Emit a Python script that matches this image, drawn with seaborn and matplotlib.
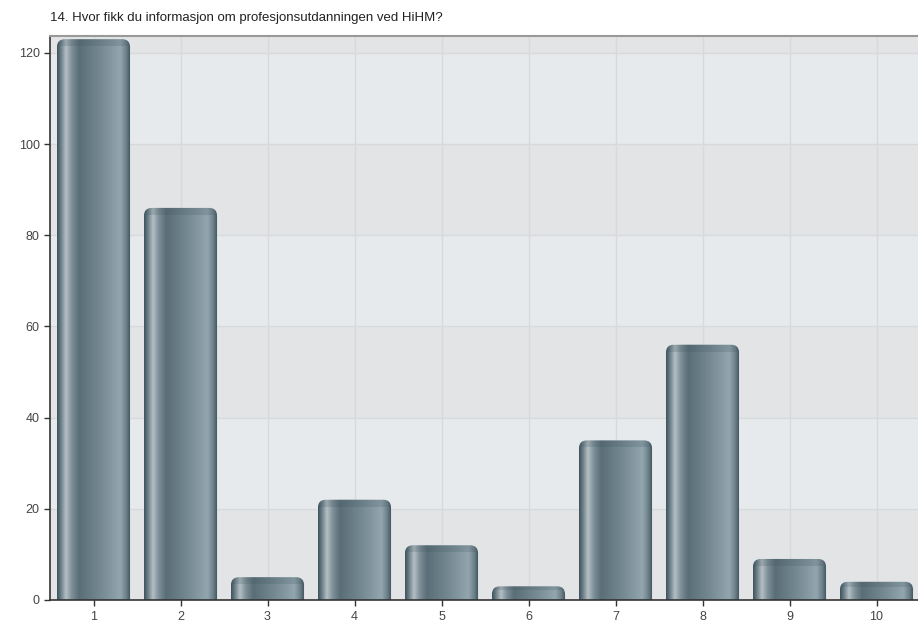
import matplotlib

matplotlib.use("Agg")
import matplotlib.pyplot as plt
import numpy as np
import pandas as pd
import seaborn as sns
from matplotlib.colors import LinearSegmentedColormap
from matplotlib.patches import FancyBboxPatch

# values
categories = ["1", "2", "3", "4", "5", "6", "7", "8", "9", "10"]
counts = [123, 86, 5, 22, 12, 3, 35, 56, 9, 4]
y_ticks = [0, 20, 40, 60, 80, 100, 120]
title = "14. Hvor fikk du informasjon om profesjonsutdanningen ved HiHM?"

df = pd.DataFrame({"category": categories, "count": counts})

sns.set_theme(style="white")
plt.rcParams["font.family"] = ["Liberation Sans", "DejaVu Sans"]

fig = plt.figure(figsize=(9.18, 6.24), dpi=100)
ax = fig.add_axes([50 / 918, 24 / 624, 870 / 918, 564 / 624])

sns.barplot(data=df, x="category", y="count", ax=ax, width=0.84, color="#6b808a")
bars = list(ax.patches)

ymax = 123.7
ax.set_xlim(-0.5, len(categories) - 0.5)
ax.set_ylim(0, ymax)

# alternating horizontal bands, darker from 0
bands = y_ticks + [ymax]
for i in range(len(bands) - 1):
    ax.axhspan(bands[i], bands[i + 1], color="#e3e4e6" if i % 2 == 0 else "#e7eaed", zorder=0, lw=0)
for y in y_ticks[1:]:
    ax.axhline(y, color="#d8d9db", lw=1.0, zorder=0.5)
for x in range(len(categories)):
    ax.axvline(x, color="#d8d9db", lw=1.0, zorder=0.5)

# cylinder-like gradient across each bar
grad = LinearSegmentedColormap.from_list(
    "bar",
    [
        (0.0, "#3f535d"),
        (0.04, "#60747e"),
        (0.12, "#b4bfc4"),
        (0.2, "#7d8f98"),
        (0.3, "#5a6e78"),
        (0.6, "#768a94"),
        (0.86, "#93a6af"),
        (0.94, "#6c808a"),
        (1.0, "#3a4e58"),
    ],
)
strip = np.linspace(0, 1, 256).reshape(1, -1)

# rounding radius ~8px in both directions
px_x = len(categories) / 870
px_y = ymax / 564
r = 8 * px_x
aspect = px_y / px_x

for patch in bars:
    x0, w, h = patch.get_x(), patch.get_width(), patch.get_height()
    patch.set_visible(False)
    clip = FancyBboxPatch(
        (x0 + r, -10 + r * aspect),
        w - 2 * r,
        h + 10 - 2 * r * aspect,
        boxstyle=f"round,pad={r},rounding_size={r}",
        mutation_aspect=aspect,
        transform=ax.transData,
        facecolor="none",
        edgecolor="none",
    )
    ax.add_patch(clip)
    im = ax.imshow(strip, cmap=grad, aspect="auto", extent=(x0, x0 + w, 0, h),
                   zorder=2, interpolation="bilinear")
    im.set_clip_path(clip)
    # slightly darker cap at the top edge
    cap_h = min(1.5, h * 0.3)
    ax.fill_between([x0, x0 + w], h - cap_h, h, color="#3f535d", alpha=0.2, zorder=3,
                    lw=0).set_clip_path(clip)

ax.set_yticks(y_ticks)
ax.set_xlabel("")
ax.set_ylabel("")
ax.tick_params(axis="both", which="both", length=4, width=1, color="#333333",
               labelsize=9, labelcolor="#444444", direction="out", bottom=True, left=True)
ax.tick_params(axis="x", pad=4)

for side in ["left", "bottom"]:
    ax.spines[side].set_color("#333333")
    ax.spines[side].set_linewidth(1.2)
ax.spines["top"].set_color("#999999")
ax.spines["top"].set_linewidth(1.5)
ax.spines["right"].set_visible(False)

fig.text(50 / 918, 1 - 18 / 624, title, fontsize=9.5, color="#222222", va="center", ha="left")

fig.savefig("out.png", dpi=100)
